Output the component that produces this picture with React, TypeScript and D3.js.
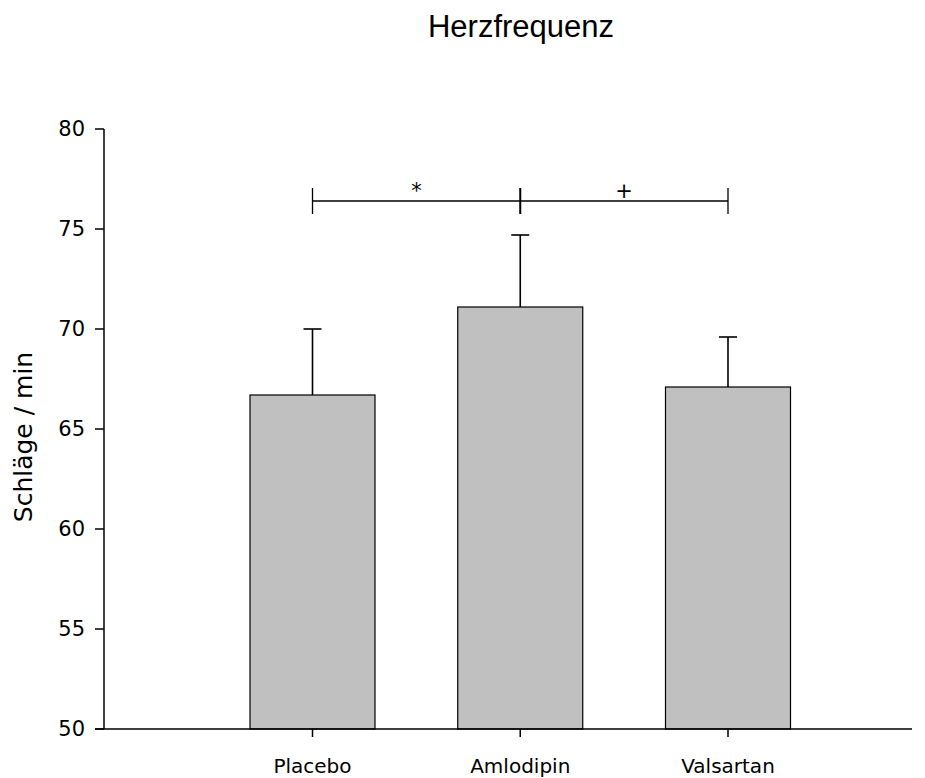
import React from "react";
import * as d3 from "d3";

const categories = ["Placebo", "Amlodipin", "Valsartan"];
const means = [66.7, 71.1, 67.1];
const sdUpper = [70.0, 74.7, 69.6];
const yTicks = [50, 55, 60, 65, 70, 75, 80];
const bracketLevel = 76.4;
const bracketMarks = ["*", "+"];

const W = 925;
const H = 778;
const TITLE_FONT = "'Liberation Sans', Arial, sans-serif";
const FONT = "'DejaVu Sans', Verdana, sans-serif";

export default function App() {
  const y = d3.scaleLinear().domain([50, 80]).range([729, 129]);
  const x = d3.scalePoint<string>().domain(categories).range([312.5, 728]);
  const barW = 125;
  const capW = 18;
  const axisX = 104;
  const axisRight = 912;

  const xs = categories.map((c) => x(c) as number);
  const by = y(bracketLevel);

  return (
    <svg width={W} height={H} style={{ position: "absolute", left: 0, top: 0, background: "#fff" }}>
      <text x={521} y={37} textAnchor="middle" fontFamily={TITLE_FONT} fontSize={31}>
        Herzfrequenz
      </text>

      {/* bars */}
      {categories.map((c, i) => (
        <rect
          key={c}
          x={xs[i] - barW / 2}
          y={y(means[i])}
          width={barW}
          height={y(50) - y(means[i])}
          fill="#c0c0c0"
          stroke="#000"
          strokeWidth={1.2}
        />
      ))}

      {/* error bars */}
      {categories.map((c, i) => (
        <g key={c + "-err"} stroke="#000" strokeWidth={1.6}>
          <line x1={xs[i]} x2={xs[i]} y1={y(means[i])} y2={y(sdUpper[i])} />
          <line x1={xs[i] - capW / 2} x2={xs[i] + capW / 2} y1={y(sdUpper[i])} y2={y(sdUpper[i])} />
        </g>
      ))}

      {/* y axis */}
      <line x1={axisX} x2={axisX} y1={y(80)} y2={y(50)} stroke="#000" strokeWidth={1.5} />
      {yTicks.map((t) => (
        <g key={t}>
          <line x1={axisX - 9} x2={axisX} y1={y(t)} y2={y(t)} stroke="#000" strokeWidth={1.5} />
          <text
            x={85}
            y={y(t)}
            textAnchor="end"
            dominantBaseline="central"
            fontFamily={FONT}
            fontSize={21}
          >
            {t}
          </text>
        </g>
      ))}

      {/* x axis */}
      <line x1={axisX - 9} x2={axisRight} y1={y(50)} y2={y(50)} stroke="#000" strokeWidth={1.5} />
      {categories.map((c, i) => (
        <g key={c + "-tick"}>
          <line x1={xs[i]} x2={xs[i]} y1={y(50)} y2={y(50) + 8} stroke="#000" strokeWidth={1.5} />
          <text x={xs[i]} y={773} textAnchor="middle" fontFamily={FONT} fontSize={20}>
            {c}
          </text>
        </g>
      ))}

      {/* y axis title */}
      <text
        transform={`translate(32, 437) rotate(-90)`}
        textAnchor="middle"
        fontFamily={FONT}
        fontSize={25}
      >
        Schläge / min
      </text>

      {/* significance bracket */}
      <g stroke="#000" strokeWidth={1.3}>
        <line x1={xs[0]} x2={xs[2]} y1={by} y2={by} />
        <line x1={xs[0]} x2={xs[0]} y1={by - 13} y2={by + 13} />
        <line x1={xs[1]} x2={xs[1]} y1={by - 13} y2={by + 13} strokeWidth={2} />
        <line x1={xs[2]} x2={xs[2]} y1={by - 13} y2={by + 13} />
      </g>
      {bracketMarks.map((m, i) => (
        <text
          key={m}
          x={(xs[i] + xs[i + 1]) / 2}
          y={by - 3}
          textAnchor="middle"
          fontFamily={FONT}
          fontSize={21}
        >
          {m}
        </text>
      ))}
    </svg>
  );
}
